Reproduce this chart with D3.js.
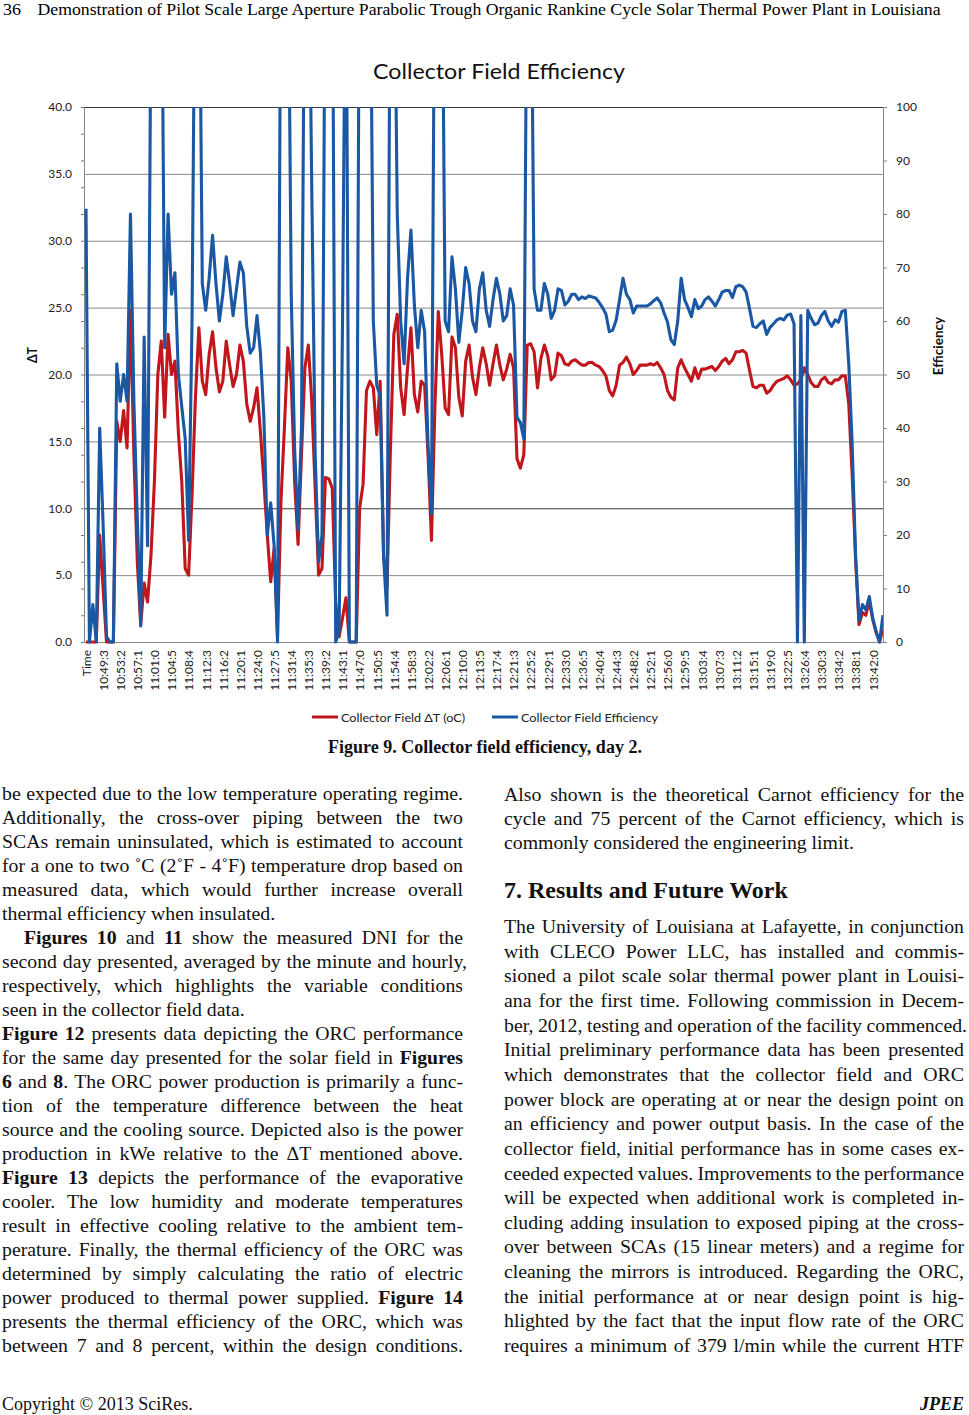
<!DOCTYPE html>
<html lang="en">
<head>
<meta charset="UTF-8">
<title>Collector Field Efficiency</title>
<script src="https://d3js.org/d3.v7.min.js"></script>
<style>
  body { margin: 0; background: #fff; }
  svg { display: block; }
  .serif { font-family: 'Liberation Serif', 'Times New Roman', Times, serif; }
  .sans { font-family: Lato, Carlito, Calibri, 'Open Sans', sans-serif; }
  .axis text { font-family: Lato, Carlito, Calibri, sans-serif; font-size: 12px; fill: #222; }
</style>
</head>
<body>
<svg id="page" width="969" height="1415"></svg>
<script>
// ---- data ----
const xLabels = ["Time","10:49:3","10:53:2","10:57:1","11:01:0","11:04:5","11:08:4","11:12:3",
  "11:16:2","11:20:1","11:24:0","11:27:5","11:31:4","11:35:3","11:39:2","11:43:1","11:47:0",
  "11:50:5","11:54:4","11:58:3","12:02:2","12:06:1","12:10:0","12:13:5","12:17:4","12:21:3",
  "12:25:2","12:29:1","12:33:0","12:36:5","12:40:4","12:44:3","12:48:2","12:52:1","12:56:0",
  "12:59:5","13:03:4","13:07:3","13:11:2","13:15:1","13:19:0","13:22:5","13:26:4","13:30:3",
  "13:34:2","13:38:1","13:42:0"];
const samplesPerLabel = 5;   // one sample every ~46 s, a label every 5 samples

const leftTicks = [0, 5, 10, 15, 20, 25, 30, 35, 40];
const rightTicks = [0, 10, 20, 30, 40, 50, 60, 70, 80, 90, 100];

// Collector Field ΔT (oC), left axis
const deltaT = [
  0,0,0,0,8,4,0,0,0,16.5,
  15,17.3,14.5,24.8,14,6,1.3,4.4,3,6.5,
  12,20,22.5,16.8,23,20,21,15.7,12,5.5,
  5,11,18.3,23.5,19.5,18.5,21.5,23.2,20.5,18.7,
  19.5,22.5,20.7,19.1,20,22.2,21,17.8,16.5,17.5,
  19,15.7,12,8,4.5,7,0.5,10.5,16,22,
  19.5,12,7.3,14,20.5,22.2,18,11.5,5,5.5,
  12.3,12.2,11.5,3,0.4,1.8,3.3,0,0,0,
  10,11.8,18.8,19.5,19,15.5,19.5,6.5,4,14.4,
  23,24.5,19,17,20.5,23.5,18.5,17.2,19.5,19.2,
  14,7.6,17.5,24.7,21.5,17.5,17,22.8,22,18.3,
  16.9,21,22.2,19.8,18.5,20.5,22,20.8,19.2,20.8,
  22.2,20.7,19.6,20.4,21.5,20.5,13.7,13,14,22.2,
  22.3,21.7,19,21.2,22.2,21.4,19.6,19.9,21.6,21.4,
  20.8,20.7,21,21.1,20.9,20.7,20.7,20.9,20.9,20.7,
  20.6,20.3,19.9,18.8,18.4,19.2,20.7,20.9,21.3,20.8,
  20,20.3,20.7,20.7,20.7,20.8,20.7,20.9,20.5,20,
  18.8,18.3,18.1,20.5,21.1,20.5,20,19.5,20.5,19.7,
  20.4,20.4,20.5,20.6,20.3,20.6,21,21.2,20.8,21.1,
  21.7,21.7,21.8,21.6,20.3,19.1,19,19.2,19.2,18.6,
  18.8,19.2,19.5,19.6,19.7,19.9,19.6,19.2,19.3,19.6,
  20.5,20,19.4,19.1,19.1,19.6,19.8,19.4,19.3,19.6,
  19.6,19.9,19.9,17.8,12.5,6.2,1.3,2.2,2,3.1,
  1.7,0.7,0,1
];

// Collector Field Efficiency (%), right axis; values above 100 run off the plot
const efficiency = [
  81,0,7,0,40,22,1,0,0,52,
  45,50,45,80,45,23,3,57,18,120,
  140,140,140,55,80,65,69,50,44,38,
  19,60,140,140,67,62,68,76,67,60,
  65,72,67,61,66,71,69,59,54,55,
  61,54,42,20,26,18,0,140,140,140,
  65,36,21,40,140,140,85,35,15,20,
  140,140,140,0,2,60,140,0,0,0,
  140,140,140,140,60,48,46,16,5,140,
  140,80,60,52,68,77,63,55,62,58,
  37,24,140,140,140,60,58,72,66,56,
  62,70,67,60,58,66,69,62,59,64,
  68,65,60,61,66,63,42,41,38,140,
  140,66,62,62,67,65,60.5,62,66,65.7,
  63,63.7,65,65,64,64.5,64.2,64.7,64.5,64.3,
  63.5,62.5,61.3,58,58.3,60.2,64,68,65,64,
  61.5,62.8,62.8,62.8,62.8,63.2,63.8,64.3,63.4,61.5,
  59.8,56.5,55.6,60,68,64,62.5,60.8,64,62.3,
  62.8,64,64.5,63.7,62.8,64,65.4,65.7,65.7,64.4,
  66.4,66.7,66.4,65.4,62.3,59,58.8,59.5,60,57.5,
  58.8,59.5,60.2,60.5,60.2,61.1,61.3,59.5,0,61,
  0,62,60.5,59.3,59.6,61,61.8,60,59,60.2,
  59.8,61.8,62,52,37,16,4,7,6,8.5,
  4.5,2,0,5
];

const seriesNames = ["Collector Field \u0394T (oC)", "Collector Field Efficiency"];
const seriesColors = ["#c0161c", "#1b58a4"];

// ---- page text ----
const headerText = "Demonstration of Pilot Scale Large Aperture Parabolic Trough Organic Rankine Cycle Solar Thermal Power Plant in Louisiana";
const caption = "Figure 9. Collector field efficiency, day 2.";

// [text, justified, indent, extra width]; *...* marks bold
const leftLines = [
  ["be expected due to the low temperature operating regime.", true],
  ["Additionally, the cross-over piping between the two", true],
  ["SCAs remain uninsulated, which is estimated to account", true],
  ["for a one to two \u02daC (2\u02daF - 4\u02daF) temperature drop based on", true],
  ["measured data, which would further increase overall", true],
  ["thermal efficiency when insulated.", false],
  ["*Figures 10* and *11* show the measured DNI for the", true, 22],
  ["second day presented, averaged by the minute and hourly,", true, 0, 4],
  ["respectively, which highlights the variable conditions", true],
  ["seen in the collector field data.", false],
  ["*Figure 12* presents data depicting the ORC performance", true],
  ["for the same day presented for the solar field in *Figures*", true],
  ["*6* and *8*. The ORC power production is primarily a func-", true],
  ["tion of the temperature difference between the heat", true],
  ["source and the cooling source. Depicted also is the power", true],
  ["production in kWe relative to the \u0394T mentioned above.", true],
  ["*Figure 13* depicts the performance of the evaporative", true],
  ["cooler. The low humidity and moderate temperatures", true],
  ["result in effective cooling relative to the ambient tem-", true],
  ["perature. Finally, the thermal efficiency of the ORC was", true],
  ["determined by simply calculating the ratio of electric", true],
  ["power produced to thermal power supplied. *Figure 14*", true],
  ["presents the thermal efficiency of the ORC, which was", true],
  ["between 7 and 8 percent, within the design conditions.", true]
];
const rightTopLines = [
  ["Also shown is the theoretical Carnot efficiency for the", true],
  ["cycle and 75 percent of the Carnot efficiency, which is", true],
  ["commonly considered the engineering limit.", false]
];
const sectionHeading = "7. Results and Future Work";
const rightLines = [
  ["The University of Louisiana at Lafayette, in conjunction", true],
  ["with CLECO Power LLC, has installed and commis-", true],
  ["sioned a pilot scale solar thermal power plant in Louisi-", true],
  ["ana for the first time. Following commission in Decem-", true],
  ["ber, 2012, testing and operation of the facility commenced.", true, 0, 3],
  ["Initial preliminary performance data has been presented", true],
  ["which demonstrates that the collector field and ORC", true],
  ["power block are operating at or near the design point on", true],
  ["an efficiency and power output basis. In the case of the", true],
  ["collector field, initial performance has in some cases ex-", true],
  ["ceeded expected values. Improvements to the performance", true],
  ["will be expected when additional work is completed in-", true],
  ["cluding adding insulation to exposed piping at the cross-", true],
  ["over between SCAs (15 linear meters) and a regime for", true],
  ["cleaning the mirrors is introduced. Regarding the ORC,", true],
  ["the initial performance at or near design point is hig-", true],
  ["hlighted by the fact that the input flow rate of the ORC", true],
  ["requires a minimum of 379 l/min while the current HTF", true]
];

// ---- layout ----
const svg = d3.select("#page");
const plot = { left: 84, right: 883, top: 107, bottom: 642 };

const x = d3.scaleLinear()
  .domain([0, (xLabels.length - 1) * samplesPerLabel])
  .range([86, 872.7]);
const yL = d3.scaleLinear().domain([0, 40]).range([plot.bottom, plot.top]);
const yR = d3.scaleLinear().domain([0, 100]).range([plot.bottom, plot.top]);

// header
svg.append("text").attr("class", "serif").attr("x", 3).attr("y", 15)
  .attr("font-size", 16).attr("textLength", 18).attr("lengthAdjust", "spacingAndGlyphs")
  .text("36");
svg.append("text").attr("class", "serif").attr("x", 37.5).attr("y", 15)
  .attr("font-size", 16).attr("textLength", 903).attr("lengthAdjust", "spacingAndGlyphs")
  .text(headerText);

// chart title
svg.append("text").attr("class", "sans").attr("x", 373).attr("y", 79)
  .attr("font-size", 21).attr("fill", "#111")
  .attr("textLength", 252).attr("lengthAdjust", "spacingAndGlyphs")
  .text("Collector Field Efficiency");

// gridlines
svg.append("g").selectAll("line").data(leftTicks).join("line")
  .attr("x1", plot.left).attr("x2", plot.right)
  .attr("y1", d => yL(d) + 0.5).attr("y2", d => yL(d) + 0.5)
  .attr("stroke", d => (d === 40 || d === 10) ? "#3a3a3a" : "#8a8a8a")
  .attr("stroke-width", 1);

// left axis
const gL = svg.append("g").attr("class", "axis").attr("transform", `translate(${plot.left},0)`)
  .call(d3.axisLeft(yL).tickValues(leftTicks).tickFormat(d3.format(".1f")).tickSize(0).tickPadding(12));
gL.select(".domain").attr("stroke", "#868686");
svg.append("g").attr("transform", `translate(${plot.left},0)`)
  .call(d3.axisLeft(yL).tickValues(d3.range(0, 41, 2)).tickFormat("").tickSize(3).tickSizeOuter(0))
  .call(g => g.select(".domain").remove())
  .selectAll("line").attr("stroke", "#777");

// right axis
const gR = svg.append("g").attr("class", "axis").attr("transform", `translate(${plot.right},0)`)
  .call(d3.axisRight(yR).tickValues(rightTicks).tickSize(4).tickSizeOuter(0).tickPadding(9));
gR.select(".domain").attr("stroke", "#868686");
gR.selectAll(".tick line").attr("stroke", "#868686");

// bottom axis with vertical time labels
const gB = svg.append("g").attr("class", "axis").attr("transform", `translate(0,${plot.bottom})`)
  .call(d3.axisBottom(x)
    .tickValues(xLabels.map((_, i) => i * samplesPerLabel))
    .tickFormat(d => xLabels[d / samplesPerLabel])
    .tickSize(0));
gB.select(".domain").remove();
gB.selectAll("text")
  .attr("transform", "rotate(-90)")
  .attr("x", -8).attr("y", 0).attr("dy", "0.36em")
  .style("text-anchor", "end");
svg.append("line").attr("x1", plot.left).attr("x2", plot.right)
  .attr("y1", plot.bottom + 0.5).attr("y2", plot.bottom + 0.5).attr("stroke", "#8a8a8a");

// axis titles
svg.append("text").attr("class", "sans").attr("font-size", 12.5).attr("font-weight", "bold")
  .attr("text-anchor", "middle").attr("fill", "#111")
  .attr("transform", "translate(37,355) rotate(-90)").text("\u0394T");
svg.append("text").attr("class", "sans").attr("font-size", 13.5).attr("font-weight", "bold")
  .attr("text-anchor", "middle").attr("fill", "#111")
  .attr("transform", "translate(943,346) rotate(-90)").text("Efficiency");

// lines
svg.append("clipPath").attr("id", "plotClip").append("rect")
  .attr("x", plot.left).attr("y", plot.top)
  .attr("width", plot.right - plot.left).attr("height", plot.bottom - plot.top + 3);

const lineL = d3.line().x((d, i) => x(i)).y(d => yL(d));
const lineR = d3.line().x((d, i) => x(i)).y(d => yR(d));
const gLines = svg.append("g").attr("clip-path", "url(#plotClip)");
gLines.append("path").datum(deltaT).attr("d", lineL)
  .attr("fill", "none").attr("stroke", seriesColors[0]).attr("stroke-width", 3.1)
  .attr("stroke-linejoin", "round");
gLines.append("path").datum(efficiency).attr("d", lineR)
  .attr("fill", "none").attr("stroke", seriesColors[1]).attr("stroke-width", 3.1)
  .attr("stroke-linejoin", "round");

// legend
const legendItems = [
  { x: 312, w: 124 },
  { x: 492, w: 137 }
];
legendItems.forEach((it, i) => {
  svg.append("line").attr("x1", it.x).attr("x2", it.x + 26).attr("y1", 717).attr("y2", 717)
    .attr("stroke", seriesColors[i]).attr("stroke-width", 3);
  svg.append("text").attr("class", "sans").attr("x", it.x + 29).attr("y", 721.5)
    .attr("font-size", 12).attr("fill", "#222")
    .attr("textLength", it.w).attr("lengthAdjust", "spacingAndGlyphs")
    .text(seriesNames[i]);
});

// caption
svg.append("text").attr("class", "serif").attr("x", 485).attr("y", 753)
  .attr("text-anchor", "middle").attr("font-size", 18).attr("font-weight", "bold")
  .attr("fill", "#111").text(caption);

// body text, justified line by line
function bodyLine(x0, y0, width, str, justify) {
  const t = svg.append("text").attr("class", "serif")
    .attr("x", x0).attr("y", y0).attr("font-size", 19.8).attr("fill", "#111")
    .style("white-space", "pre");
  str.split("*").forEach((s, i) => {
    if (s) t.append("tspan").attr("font-weight", i % 2 ? "bold" : null).text(s);
  });
  if (justify) {
    const nat = t.node().getComputedTextLength();
    const gaps = (str.replace(/\*/g, "").match(/ /g) || []).length;
    if (gaps) t.style("word-spacing", ((width - nat) / gaps) + "px");
  }
}

leftLines.forEach((l, i) => {
  const ind = l[2] || 0, extra = l[3] || 0;
  bodyLine(2 + ind, 800 + i * 24, 461 - ind + extra, l[0], l[1]);
});
rightTopLines.forEach((l, i) => bodyLine(504, 801 + i * 24, 460, l[0], l[1]));
svg.append("text").attr("class", "serif").attr("x", 504).attr("y", 898)
  .attr("font-size", 24).attr("font-weight", "bold").attr("fill", "#111").text(sectionHeading);
rightLines.forEach((l, i) => {
  const extra = l[3] || 0;
  bodyLine(504, 933 + i * 24.65, 460 + extra, l[0], l[1]);
});

// footer
svg.append("text").attr("class", "serif").attr("x", 2).attr("y", 1410)
  .attr("font-size", 18).attr("fill", "#111").text("Copyright \u00a9 2013 SciRes.");
svg.append("text").attr("class", "serif").attr("x", 964).attr("y", 1410)
  .attr("text-anchor", "end").attr("font-size", 18).attr("font-weight", "bold")
  .attr("font-style", "italic").attr("fill", "#111").text("JPEE");
</script>
</body>
</html>
